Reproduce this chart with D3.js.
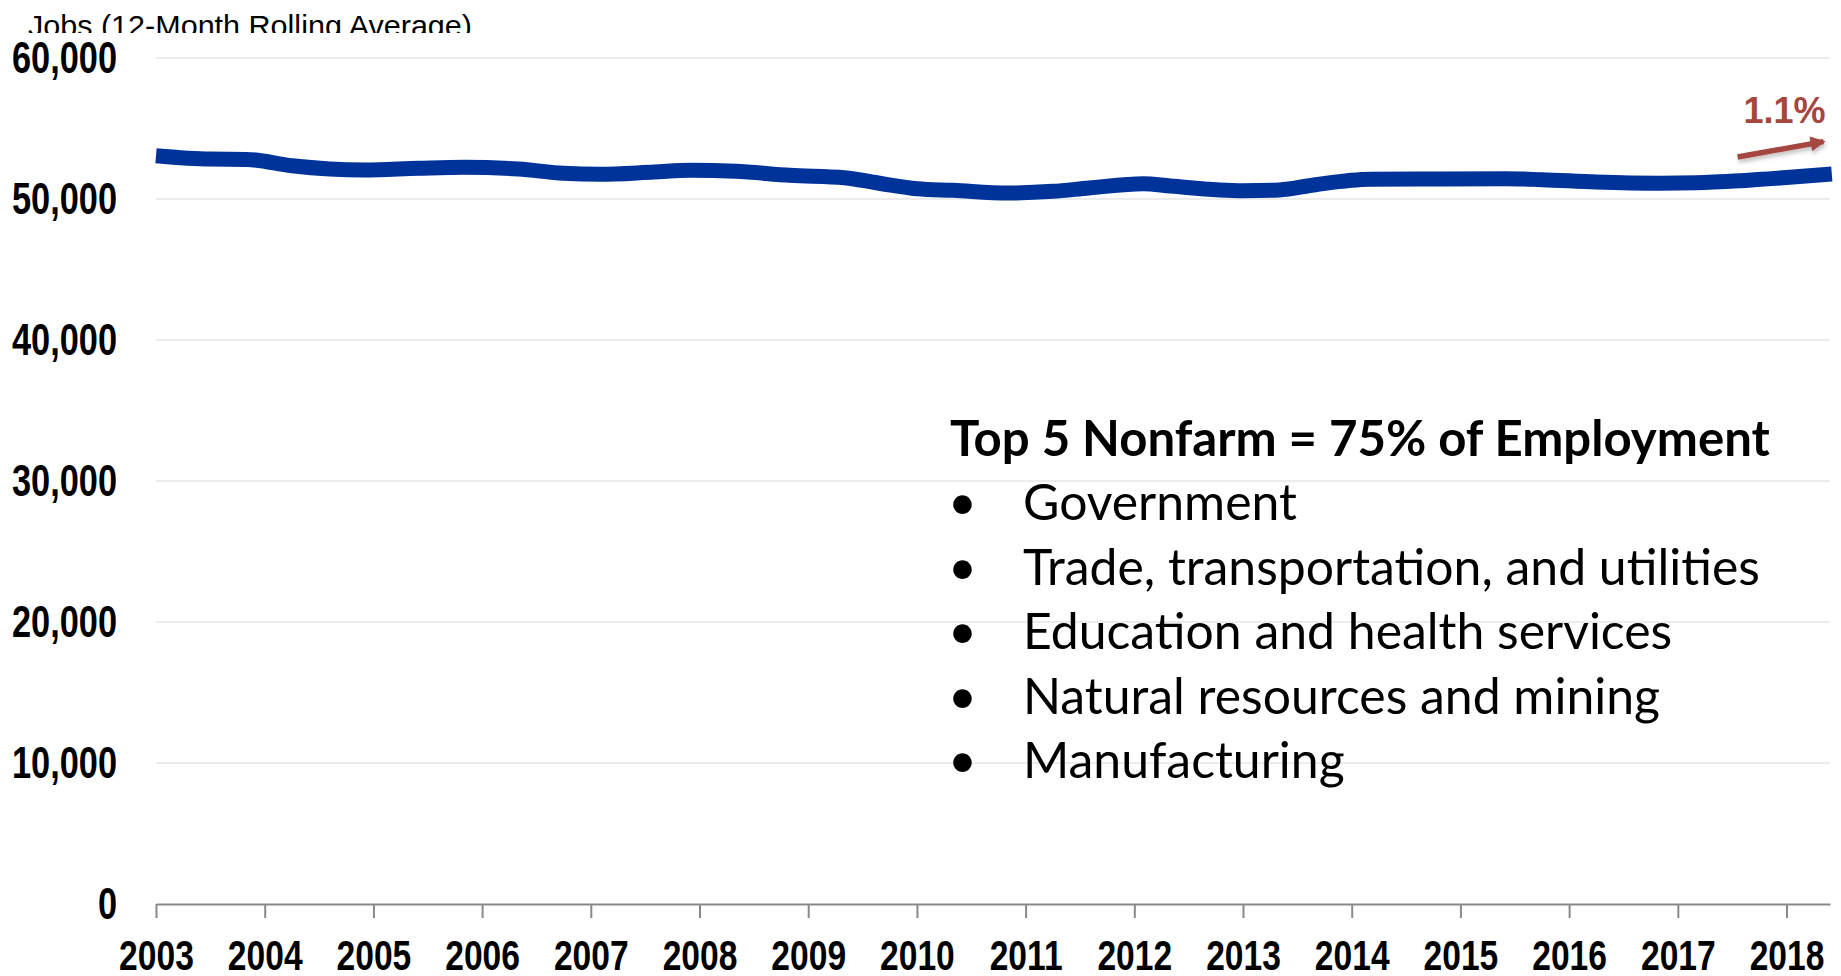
<!DOCTYPE html>
<html>
<head>
<meta charset="utf-8">
<script src="https://cdn.jsdelivr.net/npm/d3@7"></script>
<style>
  html, body { margin: 0; padding: 0; background: #fff; }
  svg { display: block; }
</style>
</head>
<body>
<div id="chart"></div>
<script>
// monthly readings of the 12-month rolling average
const months = [
  "2003-01", "2003-07", "2003-11", "2004-04", "2004-12", "2005-06", "2005-11",
  "2006-05", "2006-10", "2007-02", "2007-08", "2007-12", "2008-05", "2008-11",
  "2009-05", "2009-09", "2010-01", "2010-05", "2010-11", "2011-04", "2011-08",
  "2012-02", "2012-05", "2013-01", "2013-05", "2013-09", "2014-03", "2014-11",
  "2015-06", "2015-10", "2016-04", "2016-11", "2017-03", "2017-08", "2018-01",
  "2018-06"
];
const jobs = [
  53070, 52830, 52810, 52360, 52055, 52175, 52245,
  52125, 51820, 51750, 51915, 52035, 51965, 51680,
  51510, 51100, 50730, 50615, 50425, 50545, 50780,
  51085, 50920, 50590, 50640, 51015, 51395, 51420,
  51440, 51370, 51205, 51120, 51150, 51300, 51520,
  51770
];
const yearTicks = d3.range(2003, 2019);
const yTicks = [0, 10000, 20000, 30000, 40000, 50000, 60000];

const axisTitle = "Jobs (12-Month Rolling Average)";
const boxTitle = "Top 5 Nonfarm = 75% of Employment";
const sectors = [
  "Government",
  "Trade, transportation, and utilities",
  "Education and health services",
  "Natural resources and mining",
  "Manufacturing"
];
const changeLabel = "1.1%";
// arrow drawn next to the end of the line, in data units
const arrowFrom = [2017.55, 52980];
const arrowTo = [2018.34, 54070];

const width = 1841;
const height = 976;
const narrow = "'Liberation Sans Narrow', 'Arial Narrow', 'Liberation Sans', Arial, sans-serif";
const calibriLike = "Lato, Carlito, Calibri, 'Open Sans', sans-serif";
const red = "#a5463f";

const toYear = (s) => {
  const [y, m] = s.split("-").map(Number);
  return y + (m - 1) / 12;
};
const data = months.map((m, i) => ({ t: toYear(m), v: jobs[i] }));

const x = d3.scaleLinear().domain([2003, 2018.4]).range([156, 1830]);
const y = d3.scaleLinear().domain([0, 60000]).range([904, 58]);

const svg = d3
  .select("#chart")
  .append("svg")
  .attr("width", width)
  .attr("height", height);

// squeeze text to an Arial Narrow width (no narrow face installed)
function condense(sel, ratio) {
  sel.each(function () {
    const w = this.getComputedTextLength();
    d3.select(this)
      .attr("textLength", w * ratio)
      .attr("lengthAdjust", "spacingAndGlyphs");
  });
}

const defs = svg.append("defs");
defs.append("clipPath")
  .attr("id", "titleClip")
  .append("rect")
  .attr("x", 0)
  .attr("y", 0)
  .attr("width", 600)
  .attr("height", 33);

defs.append("marker")
  .attr("id", "head")
  .attr("viewBox", "0 -7 14 14")
  .attr("refX", 12)
  .attr("refY", 0)
  .attr("markerWidth", 16)
  .attr("markerHeight", 15)
  .attr("markerUnits", "userSpaceOnUse")
  .attr("orient", "auto")
  .append("path")
  .attr("fill", red)
  .attr("d", "M 0,-7 L 14,0 L 0,7 Z");

const shadow = defs.append("filter").attr("id", "shadow")
  .attr("x", "-20%").attr("y", "-50%").attr("width", "140%").attr("height", "200%");
shadow.append("feDropShadow")
  .attr("dx", 1).attr("dy", 3).attr("stdDeviation", 2)
  .attr("flood-color", "#000").attr("flood-opacity", 0.25);

// gridlines
svg.append("g")
  .selectAll("line")
  .data(yTicks.filter((d) => d > 0))
  .join("line")
  .attr("x1", x.range()[0])
  .attr("x2", x.range()[1])
  .attr("y1", (d) => y(d))
  .attr("y2", (d) => y(d))
  .attr("stroke", "#ececec")
  .attr("stroke-width", 2);

// y axis labels
const yAxis = svg.append("g")
  .attr("transform", `translate(${x.range()[0]},0)`)
  .call(d3.axisLeft(y).tickValues(yTicks).tickSize(0).tickPadding(39).tickFormat(d3.format(",")));
yAxis.select(".domain").remove();
yAxis.selectAll("text")
  .attr("font-family", narrow)
  .attr("font-weight", "bold")
  .attr("font-size", 44)
  .attr("dy", "0.34em")
  .attr("fill", "#000")
  .call(condense, 0.78);

// x axis
const xAxis = svg.append("g")
  .attr("transform", `translate(0,${y(0)})`)
  .call(d3.axisBottom(x).tickValues(yearTicks).tickSize(14).tickSizeOuter(0).tickPadding(22).tickFormat(d3.format("d")));
xAxis.select(".domain").attr("stroke", "#898989").attr("stroke-width", 2);
xAxis.selectAll(".tick line").attr("stroke", "#898989").attr("stroke-width", 2);
xAxis.selectAll("text")
  .attr("font-family", narrow)
  .attr("font-weight", "bold")
  .attr("font-size", 42)
  .attr("fill", "#000")
  .call(condense, 0.8);

// axis title, cut off at the top of the frame like the original
svg.append("text")
  .attr("clip-path", "url(#titleClip)")
  .attr("x", 28)
  .attr("y", 36)
  .attr("font-family", narrow)
  .attr("font-size", 30)
  .attr("fill", "#000")
  .attr("textLength", 444)
  .attr("lengthAdjust", "spacingAndGlyphs")
  .text(axisTitle);

// the series
const line = d3.line()
  .x((d) => x(d.t))
  .y((d) => y(d.v))
  .curve(d3.curveMonotoneX);

svg.append("path")
  .datum(data)
  .attr("fill", "none")
  .attr("stroke", "#003399")
  .attr("stroke-width", 15)
  .attr("stroke-linejoin", "round")
  .attr("d", line);

// growth arrow + label
svg.append("line")
  .attr("x1", x(arrowFrom[0]))
  .attr("y1", y(arrowFrom[1]))
  .attr("x2", x(arrowTo[0]))
  .attr("y2", y(arrowTo[1]))
  .attr("stroke", red)
  .attr("stroke-width", 5.5)
  .attr("marker-end", "url(#head)")
  .attr("filter", "url(#shadow)");

svg.append("text")
  .attr("x", x(arrowTo[0]) + 2)
  .attr("y", y(arrowTo[1]) - 19)
  .attr("text-anchor", "end")
  .attr("font-family", "'Liberation Sans', Arial, sans-serif")
  .attr("font-weight", "bold")
  .attr("font-size", 36)
  .attr("fill", red)
  .text(changeLabel);

// text box
const box = svg.append("g");
const head = box.append("text")
  .attr("x", 950)
  .attr("y", 456)
  .attr("font-family", calibriLike)
  .attr("font-weight", "bold")
  .attr("font-size", 44)
  .attr("fill", "#000")
  .text(boxTitle);

// size fonts so the widths match the original
function fit(sel, target) {
  const w = sel.node().getComputedTextLength();
  const fs = parseFloat(sel.attr("font-size"));
  return (fs * target) / w;
}
head.attr("font-size", fit(head, 820));

const items = box.selectAll(".item")
  .data(sectors)
  .join("g")
  .attr("class", "item")
  .attr("transform", (d, i) => `translate(0,${520 + i * 64.5})`);

items.append("text")
  .attr("x", 948)
  .attr("font-family", calibriLike)
  .attr("font-size", 44)
  .attr("fill", "#000")
  .text("•");

const itemText = items.append("text")
  .attr("x", 1023)
  .attr("font-family", calibriLike)
  .attr("font-size", 44)
  .attr("fill", "#000")
  .text((d) => d);

const longest = itemText.filter((d) => d === sectors[1]);
const itemSize = fit(longest, 737);
items.selectAll("text").attr("font-size", itemSize);
</script>
</body>
</html>
